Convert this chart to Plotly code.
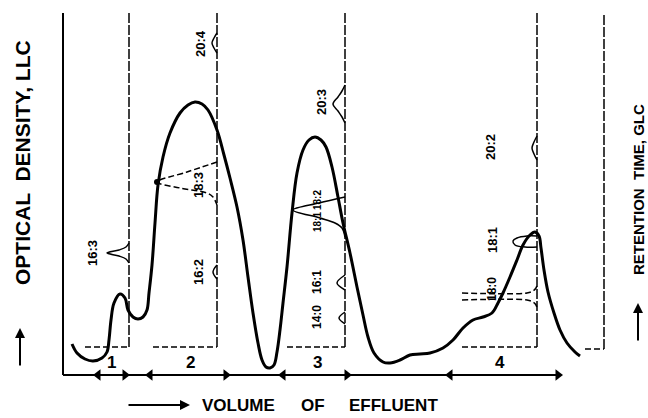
import plotly.graph_objects as go

# ---- LLC optical-density curve (volume of effluent, optical density) ----
llc_volume = [9, 14, 22, 30, 39, 44, 46, 48, 51, 57, 62, 65, 70, 75, 80, 84, 86, 89, 92, 95,
              100, 107, 117, 125, 132, 139, 145, 154, 161, 167, 174, 180, 185, 190, 195, 199,
              203, 207, 211, 214, 217, 220, 224, 229, 234, 240, 246, 252, 258, 263, 269, 275,
              280, 287, 294, 300, 305, 311, 320, 327, 337, 347, 357, 367, 380, 390, 400, 410,
              420, 429, 435, 440, 447, 454, 460, 467, 472, 476, 478, 481, 485, 491, 497, 504,
              512, 517]
llc_density = [31, 22, 16, 14, 17, 23, 35, 55, 72, 81, 77, 65, 58, 56, 58, 65, 82, 110, 152, 190,
               218, 242, 262, 270, 273, 271, 265, 245, 220, 197, 168, 135, 98, 62, 32, 15,
               8, 7, 10, 23, 45, 72, 108, 162, 202, 225, 235, 238, 235, 228, 208, 178,
               152, 122, 88, 60, 38, 22, 13, 12, 15, 20, 21, 22, 27, 35, 47, 55,
               58, 62, 72, 82, 98, 115, 130, 140, 143, 139, 127, 105, 83, 62, 45, 32,
               23, 19]

# ---- fractions along the volume axis ----
fraction_names = ["1", "2", "3", "4"]
fraction_start = [35, 87, 220, 387]
fraction_end = [62, 163, 284, 495]
fraction_label_x = [48, 127, 254, 437]

# ---- GLC chromatograms (retention axis drawn vertically at each fraction) ----
glc_axis_x = [66, 154, 282, 474, 541]
glc_base_start = [22, 90, 224, 399, 522]
glc_base_level = [28, 28, 28, 28, 26]
glc_top = 362

# peaks: response (deflection to the left) and retention
p163_resp = [0, 3, 10, 22, 10, 3, 0]
p163_ret = [112, 116, 119, 122, 125, 128, 132]
p162_resp = [0, 3, 4, 3, 0]
p162_ret = [96, 100, 103, 106, 110]
p204_resp = [0, 3, 5, 3, 0]
p204_ret = [322, 327, 332, 337, 342]
p183_resp = [0, 30, 60, 37, 10, 4, 0]
p183_ret = [213, 203, 193, 187, 182, 178, 170]
p203_resp = [0, 3, 7, 12, 7, 3, 0]
p203_ret = [252, 258, 264, 271, 278, 284, 290]
p182_resp = [0, 26, 52, 25, 10, 3, 0]
p182_ret = [178, 172, 165, 157, 152, 147, 138]
p161_resp = [0, 8, 0]
p161_ret = [85, 92, 100]
p140_resp = [0, 6, 0]
p140_ret = [51, 57, 63]
p202_resp = [0, 3, 5, 3, 0]
p202_ret = [215, 221, 227, 233, 239]
p181_resp = [0, 10, 20, 24, 22, 12, 0]
p181_ret = [139, 139, 137, 134, 130, 128, 128]
p180a_resp = [75, 10, 4, 1, 0]
p180a_ret = [82, 82, 84, 87, 90]
p180b_resp = [75, 10, 4, 1, 0]
p180b_ret = [75, 75, 73, 70, 67]

peak_labels = ["16:3", "20:4", "18:3", "16:2", "20:3", "18:2", "18:1", "16:1", "14:0",
               "20:2", "18:1", "18:0"]
peak_label_x = [29, 137, 135, 135, 258, 254, 254, 254, 254, 427, 429, 429]
peak_label_y = [122, 331, 190, 103, 273, 175, 153, 93, 58, 228, 135, 86]
peak_label_size = [13, 13, 13, 13, 13, 10, 10, 12, 12, 13, 13, 12]

fig = go.Figure()


def add_line(x, y, width=1.5, dash=None, shape="linear"):
    fig.add_trace(go.Scatter(x=x, y=y, mode="lines",
                             line=dict(color="black", width=width, dash=dash, shape=shape),
                             hoverinfo="skip", showlegend=False))


# frame
add_line([0, 0], [0, glc_top], width=2)
add_line([0, fraction_end[-1]], [0, 0], width=2)

# GLC axes and baselines
for gx, bs, bl in zip(glc_axis_x, glc_base_start, glc_base_level):
    add_line([gx, gx], [bl, glc_top], width=1.5, dash="10px,2px")
    add_line([bs, gx], [bl, bl], width=1.5, dash="6px,3px")

# GLC peaks
peaks = [
    (0, p163_resp, p163_ret, None),
    (1, p162_resp, p162_ret, None),
    (1, p204_resp, p204_ret, None),
    (1, p183_resp, p183_ret, "6px,3px"),
    (2, p203_resp, p203_ret, None),
    (2, p182_resp, p182_ret, None),
    (2, p161_resp, p161_ret, None),
    (2, p140_resp, p140_ret, None),
    (3, p202_resp, p202_ret, None),
    (3, p181_resp, p181_ret, None),
    (3, p180a_resp, p180a_ret, "6px,3px"),
    (3, p180b_resp, p180b_ret, "6px,3px"),
]
for idx, resp, ret, dash in peaks:
    gx = glc_axis_x[idx]
    add_line([gx - r for r in resp], ret, width=1.5, dash=dash, shape="spline")

# apex dot of 18:3
fig.add_trace(go.Scatter(x=[glc_axis_x[1] - max(p183_resp)],
                         y=[p183_ret[p183_resp.index(max(p183_resp))]],
                         mode="markers", marker=dict(color="black", size=6),
                         hoverinfo="skip", showlegend=False))

# LLC curve
add_line(llc_volume, llc_density, width=3, shape="spline")

# fraction arrowheads
fig.add_trace(go.Scatter(x=fraction_start, y=[0] * 4, mode="markers",
                         marker=dict(symbol="triangle-left", size=10, color="black"),
                         hoverinfo="skip", showlegend=False))
fig.add_trace(go.Scatter(x=fraction_end, y=[0] * 4, mode="markers",
                         marker=dict(symbol="triangle-right", size=10, color="black"),
                         hoverinfo="skip", showlegend=False))

ann = []
font_main = "Liberation Sans, Arial, sans-serif"
for name, lx in zip(fraction_names, fraction_label_x):
    ann.append(dict(x=lx, y=13, text="<b>%s</b>" % name, showarrow=False,
                    font=dict(family=font_main, size=17, color="black")))
for t, lx, ly, fs in zip(peak_labels, peak_label_x, peak_label_y, peak_label_size):
    ann.append(dict(x=lx, y=ly, text="<b>%s</b>" % t, showarrow=False, textangle=-90,
                    font=dict(family=font_main, size=fs, color="black")))

# axis titles
ann.append(dict(x=-41, y=212, text="<b>OPTICAL  DENSITY, LLC</b>", showarrow=False, textangle=-90,
                font=dict(family=font_main, size=21, color="black")))
ann.append(dict(x=-43, y=47, ax=-43, ay=8, axref="x", ayref="y", text="", showarrow=True,
                arrowhead=2, arrowsize=1, arrowwidth=2, arrowcolor="black"))
ann.append(dict(x=575, y=185, text="<b>RETENTION  TIME, GLC</b>", showarrow=False, textangle=-90,
                font=dict(family=font_main, size=15, color="black")))
ann.append(dict(x=575, y=72, ax=575, ay=33, axref="x", ayref="y", text="", showarrow=True,
                arrowhead=2, arrowsize=1, arrowwidth=2, arrowcolor="black"))
ann.append(dict(x=127, y=-30, ax=64, ay=-30, axref="x", ayref="y", text="", showarrow=True,
                arrowhead=2, arrowsize=1, arrowwidth=2, arrowcolor="black"))
for word, wx in zip(["VOLUME", "OF", "EFFLUENT"], [175, 250, 330]):
    ann.append(dict(x=wx, y=-30, text="<b>%s</b>" % word, showarrow=False,
                    font=dict(family=font_main, size=17, color="black")))

fig.update_layout(
    width=648, height=418,
    margin=dict(l=0, r=0, t=0, b=0),
    paper_bgcolor="white", plot_bgcolor="white",
    xaxis=dict(range=[-63, 585], visible=False, fixedrange=True),
    yaxis=dict(range=[-43, 375], visible=False, fixedrange=True),
    annotations=ann,
    showlegend=False,
)

fig.write_html("out.html")
